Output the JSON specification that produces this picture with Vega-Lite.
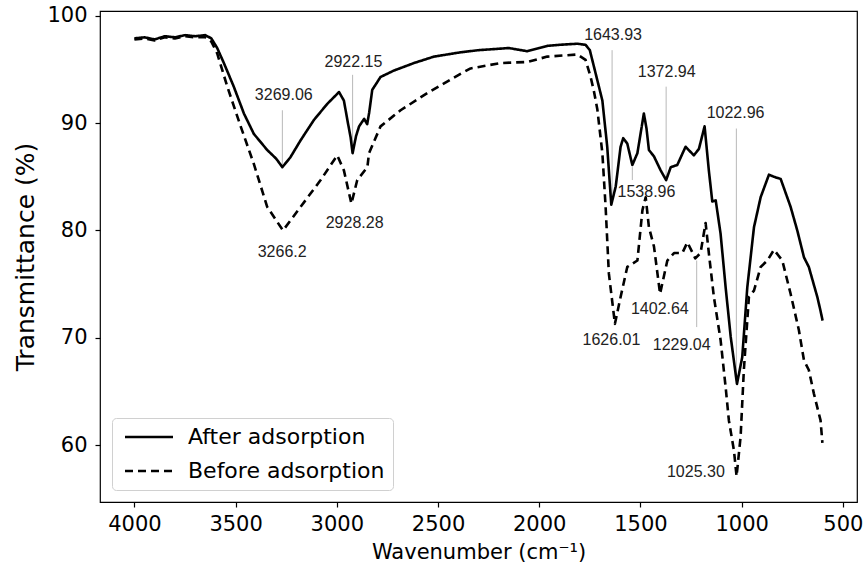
{
  "$schema": "https://vega.github.io/schema/vega-lite/v6.json",
  "width": 757,
  "height": 491,
  "autosize": "none",
  "padding": {"left": 100, "top": 11, "right": 7, "bottom": 72},
  "background": "white",
  "config": {
    "view": {"stroke": "black", "strokeWidth": 1.2},
    "axis": {
      "grid": false,
      "domain": false,
      "tickColor": "black",
      "tickSize": 5,
      "tickWidth": 1.2,
      "labelColor": "black",
      "labelFont": "DejaVu Sans",
      "labelFontSize": 21,
      "titleFont": "DejaVu Sans",
      "titleFontSize": 21,
      "titleFontWeight": "normal",
      "titleColor": "black"
    }
  },
  "datasets": {
    "spectra": [
      {"wn": 4000, "T": 97.9, "series": "After adsorption"},
      {"wn": 3950, "T": 98.0, "series": "After adsorption"},
      {"wn": 3900, "T": 97.8, "series": "After adsorption"},
      {"wn": 3850, "T": 98.1, "series": "After adsorption"},
      {"wn": 3800, "T": 98.0, "series": "After adsorption"},
      {"wn": 3750, "T": 98.2, "series": "After adsorption"},
      {"wn": 3700, "T": 98.1, "series": "After adsorption"},
      {"wn": 3650, "T": 98.2, "series": "After adsorption"},
      {"wn": 3620, "T": 97.9, "series": "After adsorption"},
      {"wn": 3591, "T": 97.0, "series": "After adsorption"},
      {"wn": 3558, "T": 95.6, "series": "After adsorption"},
      {"wn": 3509, "T": 93.4, "series": "After adsorption"},
      {"wn": 3459, "T": 90.9, "series": "After adsorption"},
      {"wn": 3410, "T": 89.0, "series": "After adsorption"},
      {"wn": 3344, "T": 87.5, "series": "After adsorption"},
      {"wn": 3300, "T": 86.7, "series": "After adsorption"},
      {"wn": 3269, "T": 85.9, "series": "After adsorption"},
      {"wn": 3230, "T": 86.8, "series": "After adsorption"},
      {"wn": 3179, "T": 88.4, "series": "After adsorption"},
      {"wn": 3113, "T": 90.3, "series": "After adsorption"},
      {"wn": 3047, "T": 91.8, "series": "After adsorption"},
      {"wn": 2989, "T": 92.9, "series": "After adsorption"},
      {"wn": 2965, "T": 92.1, "series": "After adsorption"},
      {"wn": 2945, "T": 90.0, "series": "After adsorption"},
      {"wn": 2932, "T": 88.7, "series": "After adsorption"},
      {"wn": 2922, "T": 87.2, "series": "After adsorption"},
      {"wn": 2905, "T": 88.8, "series": "After adsorption"},
      {"wn": 2890, "T": 89.7, "series": "After adsorption"},
      {"wn": 2865, "T": 90.4, "series": "After adsorption"},
      {"wn": 2850, "T": 89.9, "series": "After adsorption"},
      {"wn": 2840, "T": 91.0, "series": "After adsorption"},
      {"wn": 2825, "T": 93.1, "series": "After adsorption"},
      {"wn": 2784, "T": 94.3, "series": "After adsorption"},
      {"wn": 2718, "T": 94.9, "series": "After adsorption"},
      {"wn": 2619, "T": 95.6, "series": "After adsorption"},
      {"wn": 2520, "T": 96.2, "series": "After adsorption"},
      {"wn": 2389, "T": 96.6, "series": "After adsorption"},
      {"wn": 2300, "T": 96.8, "series": "After adsorption"},
      {"wn": 2224, "T": 96.9, "series": "After adsorption"},
      {"wn": 2150, "T": 97.0, "series": "After adsorption"},
      {"wn": 2059, "T": 96.7, "series": "After adsorption"},
      {"wn": 2000, "T": 97.0, "series": "After adsorption"},
      {"wn": 1960, "T": 97.2, "series": "After adsorption"},
      {"wn": 1900, "T": 97.3, "series": "After adsorption"},
      {"wn": 1812, "T": 97.4, "series": "After adsorption"},
      {"wn": 1771, "T": 97.3, "series": "After adsorption"},
      {"wn": 1750, "T": 96.8, "series": "After adsorption"},
      {"wn": 1738, "T": 95.9, "series": "After adsorption"},
      {"wn": 1705, "T": 93.4, "series": "After adsorption"},
      {"wn": 1688, "T": 92.1, "series": "After adsorption"},
      {"wn": 1664, "T": 87.8, "series": "After adsorption"},
      {"wn": 1644, "T": 82.4, "series": "After adsorption"},
      {"wn": 1622, "T": 84.1, "series": "After adsorption"},
      {"wn": 1598, "T": 87.8, "series": "After adsorption"},
      {"wn": 1585, "T": 88.6, "series": "After adsorption"},
      {"wn": 1565, "T": 88.1, "series": "After adsorption"},
      {"wn": 1540, "T": 86.1, "series": "After adsorption"},
      {"wn": 1515, "T": 87.2, "series": "After adsorption"},
      {"wn": 1483, "T": 90.9, "series": "After adsorption"},
      {"wn": 1470, "T": 89.5, "series": "After adsorption"},
      {"wn": 1458, "T": 87.5, "series": "After adsorption"},
      {"wn": 1433, "T": 86.9, "series": "After adsorption"},
      {"wn": 1400, "T": 85.6, "series": "After adsorption"},
      {"wn": 1373, "T": 84.7, "series": "After adsorption"},
      {"wn": 1350, "T": 85.9, "series": "After adsorption"},
      {"wn": 1318, "T": 86.1, "series": "After adsorption"},
      {"wn": 1277, "T": 87.8, "series": "After adsorption"},
      {"wn": 1236, "T": 87.0, "series": "After adsorption"},
      {"wn": 1211, "T": 87.6, "series": "After adsorption"},
      {"wn": 1183, "T": 89.7, "series": "After adsorption"},
      {"wn": 1162, "T": 85.6, "series": "After adsorption"},
      {"wn": 1145, "T": 82.7, "series": "After adsorption"},
      {"wn": 1128, "T": 82.8, "series": "After adsorption"},
      {"wn": 1104, "T": 79.7, "series": "After adsorption"},
      {"wn": 1079, "T": 74.7, "series": "After adsorption"},
      {"wn": 1054, "T": 70.1, "series": "After adsorption"},
      {"wn": 1023, "T": 65.7, "series": "After adsorption"},
      {"wn": 997, "T": 68.2, "series": "After adsorption"},
      {"wn": 972, "T": 74.7, "series": "After adsorption"},
      {"wn": 939, "T": 80.3, "series": "After adsorption"},
      {"wn": 906, "T": 83.1, "series": "After adsorption"},
      {"wn": 865, "T": 85.2, "series": "After adsorption"},
      {"wn": 840, "T": 85.0, "series": "After adsorption"},
      {"wn": 807, "T": 84.8, "series": "After adsorption"},
      {"wn": 758, "T": 82.2, "series": "After adsorption"},
      {"wn": 725, "T": 80.0, "series": "After adsorption"},
      {"wn": 692, "T": 77.5, "series": "After adsorption"},
      {"wn": 668, "T": 76.6, "series": "After adsorption"},
      {"wn": 626, "T": 73.8, "series": "After adsorption"},
      {"wn": 610, "T": 72.5, "series": "After adsorption"},
      {"wn": 600, "T": 71.6, "series": "After adsorption"},
      {"wn": 4000, "T": 97.8, "series": "Before adsorption"},
      {"wn": 3950, "T": 97.9, "series": "Before adsorption"},
      {"wn": 3900, "T": 97.7, "series": "Before adsorption"},
      {"wn": 3850, "T": 98.0, "series": "Before adsorption"},
      {"wn": 3800, "T": 97.9, "series": "Before adsorption"},
      {"wn": 3750, "T": 98.1, "series": "Before adsorption"},
      {"wn": 3700, "T": 98.0, "series": "Before adsorption"},
      {"wn": 3650, "T": 98.0, "series": "Before adsorption"},
      {"wn": 3620, "T": 97.6, "series": "Before adsorption"},
      {"wn": 3591, "T": 96.5, "series": "Before adsorption"},
      {"wn": 3541, "T": 93.4, "series": "Before adsorption"},
      {"wn": 3475, "T": 89.7, "series": "Before adsorption"},
      {"wn": 3410, "T": 86.2, "series": "Before adsorption"},
      {"wn": 3344, "T": 82.2, "series": "Before adsorption"},
      {"wn": 3266, "T": 80.0, "series": "Before adsorption"},
      {"wn": 3179, "T": 82.2, "series": "Before adsorption"},
      {"wn": 3080, "T": 84.7, "series": "Before adsorption"},
      {"wn": 2998, "T": 87.0, "series": "Before adsorption"},
      {"wn": 2965, "T": 85.6, "series": "Before adsorption"},
      {"wn": 2928, "T": 82.5, "series": "Before adsorption"},
      {"wn": 2899, "T": 84.7, "series": "Before adsorption"},
      {"wn": 2849, "T": 85.9, "series": "Before adsorption"},
      {"wn": 2841, "T": 87.2, "series": "Before adsorption"},
      {"wn": 2784, "T": 89.7, "series": "Before adsorption"},
      {"wn": 2685, "T": 91.2, "series": "Before adsorption"},
      {"wn": 2553, "T": 92.8, "series": "Before adsorption"},
      {"wn": 2389, "T": 94.6, "series": "Before adsorption"},
      {"wn": 2339, "T": 95.1, "series": "Before adsorption"},
      {"wn": 2191, "T": 95.6, "series": "Before adsorption"},
      {"wn": 2059, "T": 95.7, "series": "Before adsorption"},
      {"wn": 1960, "T": 96.2, "series": "Before adsorption"},
      {"wn": 1812, "T": 96.4, "series": "Before adsorption"},
      {"wn": 1771, "T": 95.9, "series": "Before adsorption"},
      {"wn": 1746, "T": 94.3, "series": "Before adsorption"},
      {"wn": 1730, "T": 93.0, "series": "Before adsorption"},
      {"wn": 1713, "T": 91.3, "series": "Before adsorption"},
      {"wn": 1688, "T": 87.2, "series": "Before adsorption"},
      {"wn": 1672, "T": 82.2, "series": "Before adsorption"},
      {"wn": 1656, "T": 76.0, "series": "Before adsorption"},
      {"wn": 1626, "T": 71.3, "series": "Before adsorption"},
      {"wn": 1598, "T": 73.8, "series": "Before adsorption"},
      {"wn": 1565, "T": 76.6, "series": "Before adsorption"},
      {"wn": 1515, "T": 77.2, "series": "Before adsorption"},
      {"wn": 1490, "T": 81.9, "series": "Before adsorption"},
      {"wn": 1474, "T": 83.1, "series": "Before adsorption"},
      {"wn": 1458, "T": 80.3, "series": "Before adsorption"},
      {"wn": 1433, "T": 78.5, "series": "Before adsorption"},
      {"wn": 1403, "T": 74.1, "series": "Before adsorption"},
      {"wn": 1367, "T": 77.2, "series": "Before adsorption"},
      {"wn": 1334, "T": 77.9, "series": "Before adsorption"},
      {"wn": 1293, "T": 77.9, "series": "Before adsorption"},
      {"wn": 1268, "T": 78.9, "series": "Before adsorption"},
      {"wn": 1229, "T": 77.4, "series": "Before adsorption"},
      {"wn": 1203, "T": 77.9, "series": "Before adsorption"},
      {"wn": 1178, "T": 80.7, "series": "Before adsorption"},
      {"wn": 1162, "T": 77.9, "series": "Before adsorption"},
      {"wn": 1137, "T": 73.8, "series": "Before adsorption"},
      {"wn": 1104, "T": 69.8, "series": "Before adsorption"},
      {"wn": 1079, "T": 65.4, "series": "Before adsorption"},
      {"wn": 1063, "T": 62.3, "series": "Before adsorption"},
      {"wn": 1038, "T": 59.5, "series": "Before adsorption"},
      {"wn": 1025, "T": 57.1, "series": "Before adsorption"},
      {"wn": 1005, "T": 60.8, "series": "Before adsorption"},
      {"wn": 989, "T": 67.0, "series": "Before adsorption"},
      {"wn": 964, "T": 73.8, "series": "Before adsorption"},
      {"wn": 939, "T": 74.4, "series": "Before adsorption"},
      {"wn": 906, "T": 76.6, "series": "Before adsorption"},
      {"wn": 873, "T": 77.2, "series": "Before adsorption"},
      {"wn": 840, "T": 78.2, "series": "Before adsorption"},
      {"wn": 799, "T": 77.2, "series": "Before adsorption"},
      {"wn": 758, "T": 74.1, "series": "Before adsorption"},
      {"wn": 717, "T": 70.7, "series": "Before adsorption"},
      {"wn": 692, "T": 67.9, "series": "Before adsorption"},
      {"wn": 668, "T": 67.0, "series": "Before adsorption"},
      {"wn": 643, "T": 64.8, "series": "Before adsorption"},
      {"wn": 618, "T": 62.9, "series": "Before adsorption"},
      {"wn": 610, "T": 62.3, "series": "Before adsorption"},
      {"wn": 601, "T": 60.2, "series": "Before adsorption"}
    ],
    "leaders": [
      {"x": 3269, "y1": 86.0, "y2": 91.2},
      {"x": 2922, "y1": 87.4, "y2": 94.5},
      {"x": 1640, "y1": 82.8, "y2": 96.8},
      {"x": 1373, "y1": 85.0, "y2": 93.4},
      {"x": 1026, "y1": 66.0, "y2": 89.5},
      {"x": 1540, "y1": 84.7, "y2": 85.9},
      {"x": 1222, "y1": 71.0, "y2": 77.2}
    ],
    "labels": [
      {"label": "3269.06", "x": 3262, "y": 92.6},
      {"label": "2922.15", "x": 2918, "y": 95.7},
      {"label": "3266.2", "x": 3270, "y": 78.0},
      {"label": "2928.28", "x": 2912, "y": 80.7},
      {"label": "1643.93", "x": 1635, "y": 98.2},
      {"label": "1372.94", "x": 1370, "y": 94.8},
      {"label": "1022.96", "x": 1030, "y": 90.9},
      {"label": "1538.96", "x": 1470, "y": 83.6},
      {"label": "1626.01", "x": 1643, "y": 69.8},
      {"label": "1402.64", "x": 1404, "y": 72.7},
      {"label": "1229.04", "x": 1296, "y": 69.3},
      {"label": "1025.30", "x": 1226, "y": 57.5}
    ]
  },
  "layer": [
    {
      "data": {"name": "leaders"},
      "mark": {"type": "rule", "color": "#b0b0b0", "strokeWidth": 0.9},
      "encoding": {
        "x": {"field": "x", "type": "quantitative"},
        "y": {"field": "y1", "type": "quantitative"},
        "y2": {"field": "y2"}
      }
    },
    {
      "data": {"name": "spectra"},
      "mark": {"type": "line", "color": "black", "strokeWidth": 2.6, "strokeJoin": "round"},
      "encoding": {
        "x": {
          "field": "wn", "type": "quantitative",
          "scale": {"domain": [430, 4170], "reverse": true, "nice": false, "zero": false},
          "axis": {"values": [500, 1000, 1500, 2000, 2500, 3000, 3500, 4000], "title": "Wavenumber (cm⁻¹)", "labelPadding": 6, "titlePadding": 7, "format": "d"}
        },
        "y": {
          "field": "T", "type": "quantitative",
          "scale": {"domain": [54.7, 100.45], "nice": false, "zero": false},
          "axis": {"values": [60, 70, 80, 90, 100], "title": "Transmittance (%)", "titleFontSize": 25, "labelPadding": 8, "titlePadding": 8}
        },
        "strokeDash": {
          "field": "series", "type": "nominal",
          "scale": {"domain": ["After adsorption", "Before adsorption"], "range": [[1, 0], [8, 5]]},
          "legend": {
            "title": null,
            "orient": "bottom-left",
            "offset": 12,
            "symbolType": "M-1,0H7",
            "symbolSize": 144,
            "symbolStrokeWidth": 2.6,
            "symbolStrokeColor": "black",
            "symbolFillColor": "transparent",
            "labelFont": "DejaVu Sans",
            "labelFontSize": 22,
            "labelColor": "black",
            "labelLimit": 0,
            "labelOffset": 46,
            "rowPadding": 12,
            "padding": 8,
            "fillColor": "white",
            "strokeColor": "#d0d0d0",
            "cornerRadius": 4
          }
        }
      }
    },
    {
      "data": {"name": "labels"},
      "mark": {"type": "text", "font": "Liberation Sans", "fontSize": 16, "color": "#222222", "align": "center", "baseline": "middle"},
      "encoding": {
        "x": {"field": "x", "type": "quantitative"},
        "y": {"field": "y", "type": "quantitative"},
        "text": {"field": "label"}
      }
    }
  ]
}
